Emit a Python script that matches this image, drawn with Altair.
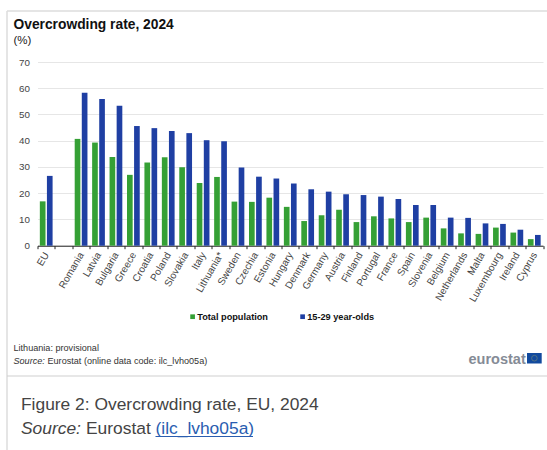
import altair as alt
import pandas as pd

countries = ["EU", " ", "Romania", "Latvia", "Bulgaria", "Greece", "Croatia", "Poland",
             "Slovakia", "Italy", "Lithuania*", "Sweden", "Czechia", "Estonia", "Hungary",
             "Denmark", "Germany", "Austria", "Finland", "Portugal", "France", "Spain",
             "Slovenia", "Belgium", "Netherlands", "Malta", "Luxembourg", "Ireland", "Cyprus"]
total_population = [16.9, None, 40.7, 39.3, 33.8, 27.0, 31.7, 33.7, 29.9, 23.9, 26.2, 16.8, 16.7,
                    18.3, 14.8, 9.4, 11.6, 13.7, 9.0, 11.2, 10.4, 9.0, 10.7, 6.6, 4.7, 4.5, 6.9, 5.0, 2.5]
young_adults = [26.6, None, 58.3, 55.9, 53.3, 45.6, 44.8, 43.7, 42.9, 40.2, 39.8, 29.8, 26.3,
                25.6, 23.7, 21.5, 20.6, 19.6, 19.3, 18.7, 17.8, 15.5, 15.5, 10.7, 10.6, 8.5, 8.3, 6.1, 4.1]
series_names = ["Total population", "15-29 year-olds"]
series_colors = ["#35a035", "#1f3fa3"]
FONT = "Liberation Sans"

# Plot origin sits at (37.5, 62) on the page; all annotations are placed relative to it.
OX, OY = 37.5, 62


def px(x):
    return x - OX


def py(y):
    return y - OY


rows = []
for c, a, b in zip(countries, total_population, young_adults):
    rows.append({"country": c, "series": series_names[0], "value": a})
    rows.append({"country": c, "series": series_names[1], "value": b})
df = pd.DataFrame(rows).dropna()

bars = alt.Chart(df).mark_bar().encode(
    x=alt.X("country:N", sort=countries,
            scale=alt.Scale(domain=countries, paddingInner=0, paddingOuter=0),
            axis=alt.Axis(title=None, labelAngle=-60, labelFont=FONT, labelFontSize=10,
                          labelColor="#444444", labelAlign="right", labelBaseline="middle",
                          labelPadding=4, tickBand="extent", tickSize=3, tickColor="#222222",
                          domainColor="#222222", labelOverlap=False, grid=False)),
    xOffset=alt.XOffset("series:N", sort=series_names,
                        scale=alt.Scale(domain=series_names, paddingInner=0.2, paddingOuter=0.33)),
    y=alt.Y("value:Q", scale=alt.Scale(domain=[0, 70], nice=False),
            axis=alt.Axis(title=None, values=list(range(0, 80, 10)), labelFont=FONT, labelFontSize=9.8,
                          labelColor="#444444", labelPadding=8, ticks=False, domain=False, grid=True,
                          gridColor="#e6e6e6", gridWidth=1)),
    color=alt.Color("series:N", sort=series_names,
                    scale=alt.Scale(domain=series_names, range=series_colors),
                    legend=alt.Legend(title=None, orient="none", legendX=px(188), legendY=py(312),
                                      direction="horizontal", columns=2, symbolType="square",
                                      symbolSize=22, symbolStrokeWidth=0, labelFont=FONT, labelFontSize=9.2,
                                      labelFontWeight="bold", labelColor="#111111", labelOffset=0,
                                      columnPadding=30)),
)


def note(text, x, y, size, color="#222222", weight="normal", style="normal"):
    return alt.Chart(pd.DataFrame({"t": [text]})).mark_text(
        align="left", baseline="alphabetic", font=FONT, fontSize=size, color=color,
        fontWeight=weight, fontStyle=style,
    ).encode(x=alt.value(px(x)), y=alt.value(py(y)), text="t:N")


def line(x1, y1, x2, y2, color="#dcdcdc", width=1.5):
    return alt.Chart(pd.DataFrame({"a": [0]})).mark_rule(color=color, strokeWidth=width).encode(
        x=alt.value(px(x1)), x2=alt.value(px(x2)), y=alt.value(py(y1)), y2=alt.value(py(y2)))


frame = [
    line(7, 11, 547, 11),
    line(7, 11, 7, 450),
    line(7, 376, 547, 376, color="#cfcfcf", width=1),
]

texts = [
    note("Overcrowding rate, 2024", 13.5, 29, 13.8, color="#111111", weight="bold"),
    note("(%)", 13.5, 44, 11.5, color="#222222"),
    note("Lithuania: provisional", 13.5, 351, 9.1, color="#333333"),
    note("Source:", 13.5, 364, 9.1, color="#333333", style="italic"),
    note("Eurostat (online data code: ilc_lvho05a)", 47.5, 364, 9.1, color="#333333"),
    note("Figure 2: Overcrowding rate, EU, 2024", 21, 410, 17.4, color="#444444"),
    note("Source:", 21, 434, 17.4, color="#444444", style="italic"),
    note("Eurostat", 86, 434, 17.4, color="#444444"),
    note("(ilc_lvho05a)", 155.5, 434, 17.4, color="#2a5db0"),
    line(155.5, 436.5, 253, 436.5, color="#2a5db0", width=1),
    note("eurostat", 468.5, 364, 14.5, color="#858b96", weight="bold"),
]

flag = alt.Chart(pd.DataFrame({"a": [0]})).mark_rect(color="#124a9e").encode(
    x=alt.value(px(527)), x2=alt.value(px(541.7)), y=alt.value(py(353)), y2=alt.value(py(363.5)))
flag_ring = alt.Chart(pd.DataFrame({"a": [0]})).mark_point(
    shape="circle", filled=False, color="#8f9a6a", size=32, strokeWidth=0.7,
).encode(x=alt.value(px(534.4)), y=alt.value(py(358.2)))

chart = alt.layer(*frame, bars, *texts, flag, flag_ring).properties(
    width=505.5,
    height=183.7,
    padding={"left": OX, "top": OY, "right": 4, "bottom": 204.3},
    autosize=alt.AutoSizeParams(type="none"),
    background="white",
).configure_view(stroke=None)

chart.save("out.html", embed_options={"renderer": "svg", "actions": False})
